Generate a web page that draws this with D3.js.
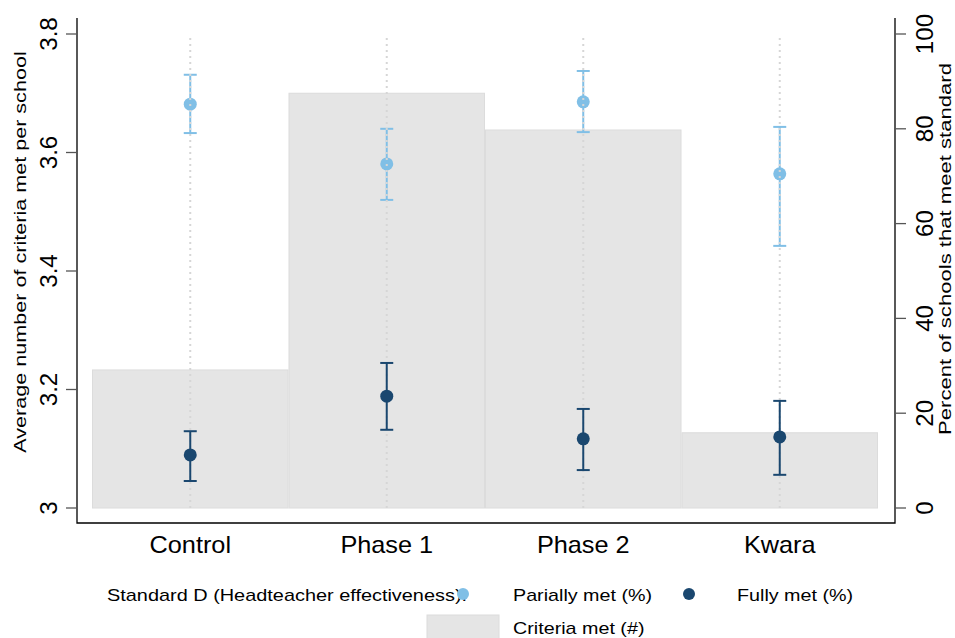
<!DOCTYPE html>
<html>
<head>
<meta charset="utf-8">
<script src="https://cdn.jsdelivr.net/npm/d3@7"></script>
<style>
  body { margin: 0; background: #fff; }
  text { font-family: "Liberation Sans", Arial, sans-serif; fill: #000; }
</style>
</head>
<body>
<div id="chart"></div>
<script>
// data
const groups = ["Control", "Phase 1", "Phase 2", "Kwara"];
const criteriaMet = [3.233, 3.700, 3.638, 3.127];
const partialPct = [85.2, 72.6, 85.7, 70.5];
const partialLo = [79.1, 65.0, 79.3, 55.3];
const partialHi = [91.4, 80.0, 92.2, 80.4];
const fullPct = [11.2, 23.6, 14.6, 15.0];
const fullLo = [5.7, 16.5, 8.0, 7.0];
const fullHi = [16.2, 30.6, 20.9, 22.6];
const leftTicks = [3, 3.2, 3.4, 3.6, 3.8];
const rightTicks = [0, 20, 40, 60, 80, 100];

const width = 955, height = 638;
const lightBlue = "#80bfe6", navy = "#1a476f";

const svg = d3.select("#chart").append("svg")
    .attr("width", width)
    .attr("height", height);

// the original text is a bit wider than Liberation Sans, so stretch it
function label(sel, x, y, rot, sx) {
  return sel.attr("transform", `translate(${x},${y})` + (rot ? " rotate(-90)" : "") + ` scale(${sx},1)`);
}

// scales
const x = d3.scaleBand().domain(groups).range([92, 878]).padding(0);
const yLeft = d3.scaleLinear().domain([3, 3.8]).range([508, 34]);
const yRight = d3.scaleLinear().domain([0, 100]).range([508, 34]);

// bars (criteria met, left axis)
svg.append("g").selectAll("rect")
    .data(groups)
    .join("rect")
    .attr("x", d => x(d) + 0.5)
    .attr("width", x.bandwidth() - 1)
    .attr("y", (d, i) => yLeft(criteriaMet[i]))
    .attr("height", (d, i) => yLeft(3) - yLeft(criteriaMet[i]))
    .attr("fill", "#e5e5e5")
    .attr("stroke", "#dcdcdc")
    .attr("stroke-width", 1);

// error bars + points
function drawSeries(vals, lo, hi, color) {
  const g = svg.append("g");
  const cx = d => x(d) + x.bandwidth() / 2;
  g.selectAll("line.v").data(groups).join("line")
      .attr("x1", cx).attr("x2", cx)
      .attr("y1", (d, i) => yRight(lo[i]))
      .attr("y2", (d, i) => yRight(hi[i]))
      .attr("stroke", color).attr("stroke-width", 2);
  [lo, hi].forEach(arr => {
    g.selectAll(null).data(groups).join("line")
        .attr("x1", d => cx(d) - 6.5).attr("x2", d => cx(d) + 6.5)
        .attr("y1", (d, i) => yRight(arr[i]))
        .attr("y2", (d, i) => yRight(arr[i]))
        .attr("stroke", color).attr("stroke-width", 2);
  });
  g.selectAll("circle").data(groups).join("circle")
      .attr("cx", cx)
      .attr("cy", (d, i) => yRight(vals[i]))
      .attr("r", 6.5)
      .attr("fill", color);
}

drawSeries(partialPct, partialLo, partialHi, lightBlue);

// dotted vertical grid lines at category centres
svg.append("g").selectAll("line")
    .data(groups)
    .join("line")
    .attr("x1", d => x(d) + x.bandwidth() / 2)
    .attr("x2", d => x(d) + x.bandwidth() / 2)
    .attr("y1", 38).attr("y2", 510)
    .attr("stroke", "#d6d6d6")
    .attr("stroke-width", 2)
    .attr("stroke-dasharray", "2,4");

drawSeries(fullPct, fullLo, fullHi, navy);

// axis frame
svg.append("path")
    .attr("d", "M77,18V523H895V18")
    .attr("fill", "none")
    .attr("stroke", "#000")
    .attr("stroke-width", 1.3);

// left axis
const gl = svg.append("g");
gl.selectAll("line").data(leftTicks).join("line")
    .attr("x1", 66).attr("x2", 77)
    .attr("y1", d => yLeft(d)).attr("y2", d => yLeft(d))
    .attr("stroke", "#555").attr("stroke-width", 1.3);
gl.selectAll("text").data(leftTicks).join("text")
    .each(function(d) { label(d3.select(this), 57, yLeft(d), true, 1.05); })
    .attr("text-anchor", "middle")
    .style("font-size", "23px")
    .text(d => d3.format("~g")(d));
label(svg.append("text"), 26, 252, true, 1.27)
    .attr("text-anchor", "middle")
    .style("font-size", "17px")
    .text("Average number of criteria met per school");

// right axis
const gr = svg.append("g");
gr.selectAll("line").data(rightTicks).join("line")
    .attr("x1", 895).attr("x2", 906)
    .attr("y1", d => yRight(d)).attr("y2", d => yRight(d))
    .attr("stroke", "#555").attr("stroke-width", 1.3);
gr.selectAll("text").data(rightTicks).join("text")
    .each(function(d) { label(d3.select(this), 933, yRight(d), true, 1.05); })
    .attr("text-anchor", "middle")
    .style("font-size", "23px")
    .text(d => d);
label(svg.append("text"), 951, 249, true, 1.3)
    .attr("text-anchor", "middle")
    .style("font-size", "17px")
    .text("Percent of schools that meet standard");

// category labels
svg.append("g").selectAll("text")
    .data(groups)
    .join("text")
    .each(function(d) { label(d3.select(this), x(d) + x.bandwidth() / 2, 553, false, 1.1); })
    .attr("text-anchor", "middle")
    .style("font-size", "23px")
    .text(d => d);

// legend
const lg = svg.append("g").style("font-size", "17px");
label(lg.append("text"), 107, 601, false, 1.17).text("Standard D (Headteacher effectiveness):");
lg.append("circle").attr("cx", 463).attr("cy", 594).attr("r", 6).attr("fill", lightBlue);
label(lg.append("text"), 513, 601, false, 1.16).text("Parially met (%)");
lg.append("circle").attr("cx", 689).attr("cy", 594).attr("r", 6).attr("fill", navy);
label(lg.append("text"), 737, 601, false, 1.16).text("Fully met (%)");
lg.append("rect").attr("x", 427).attr("y", 615).attr("width", 72).attr("height", 24)
    .attr("fill", "#e5e5e5").attr("stroke", "#dcdcdc");
label(lg.append("text"), 513, 634, false, 1.16).text("Criteria met (#)");
</script>
</body>
</html>
